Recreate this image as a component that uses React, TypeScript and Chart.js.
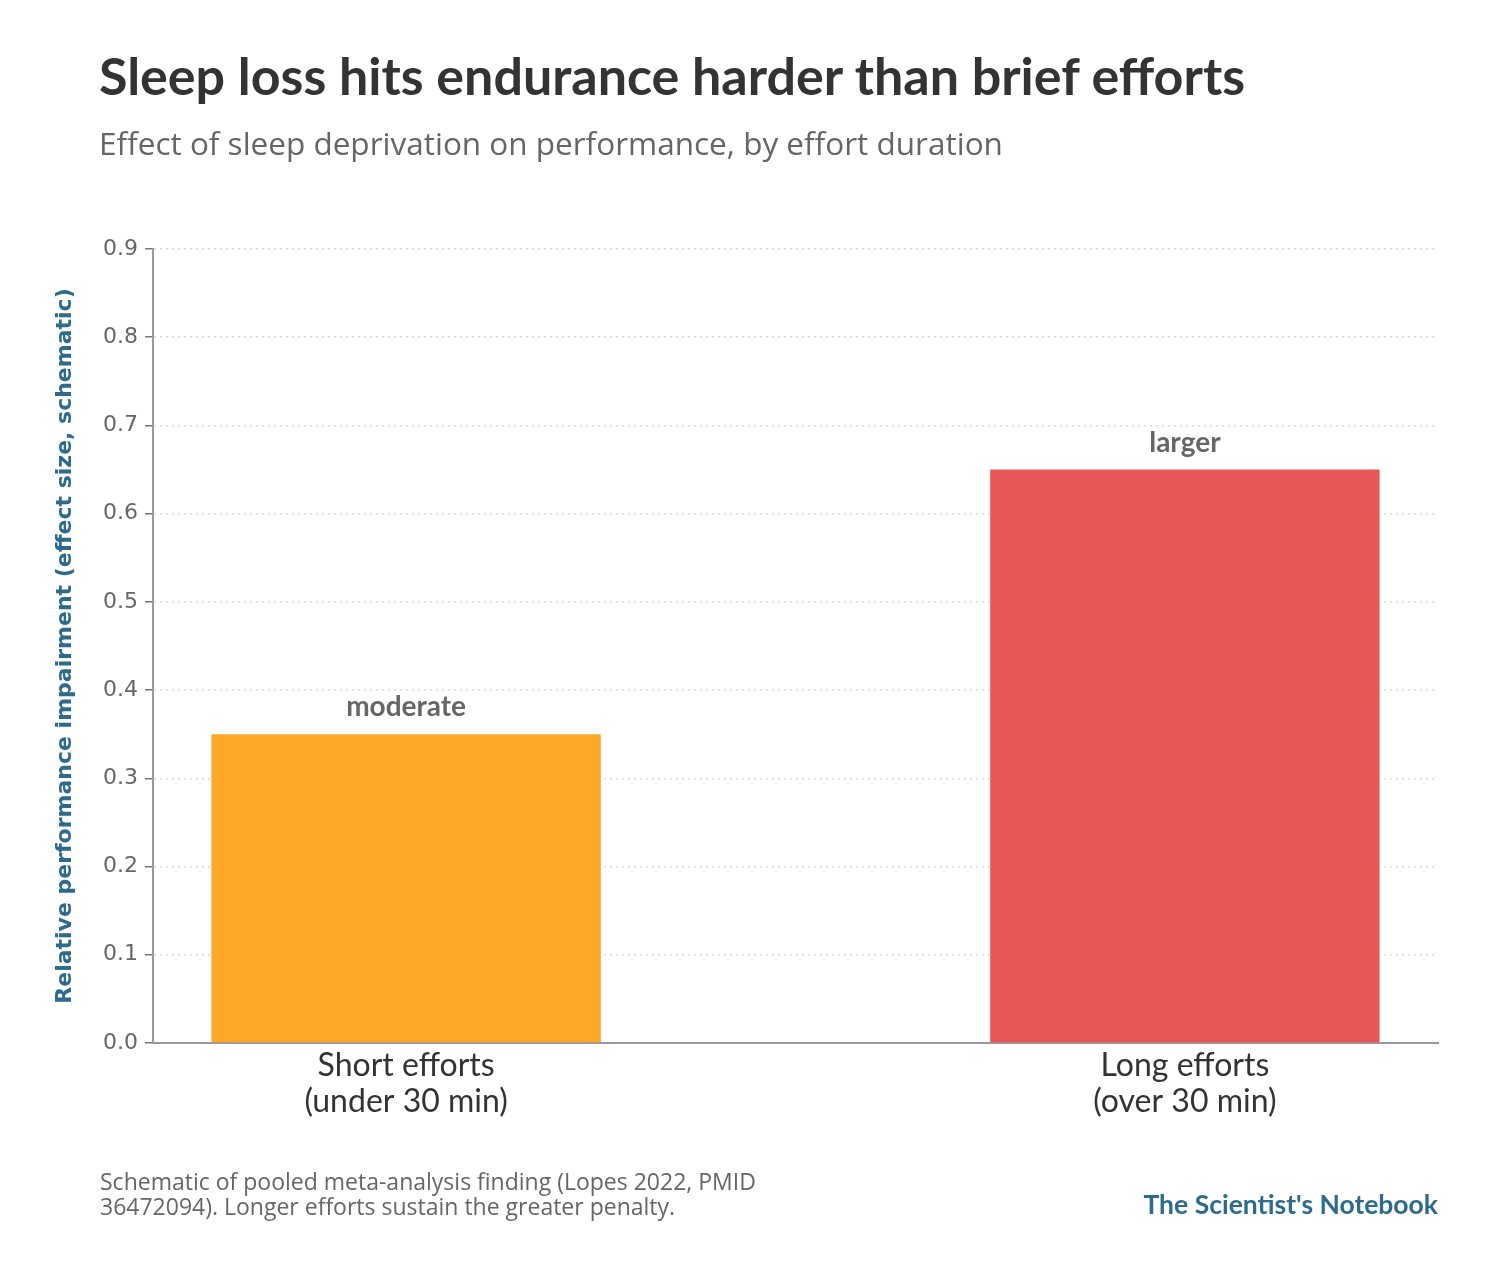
import React, { useEffect, useRef } from "react";
import { Chart, registerables, ChartConfiguration, Plugin } from "chart.js";

Chart.register(...registerables);

// data
const categories = [
  ["Short efforts", "(under 30 min)"],
  ["Long efforts", "(over 30 min)"],
];
const positions = [0, 1];
const impairment = [0.35, 0.65];
const barLabels = ["moderate", "larger"];
const barColors = ["#FFA828", "#E85755"];
const yTicks = [0, 0.1, 0.2, 0.3, 0.4, 0.5, 0.6, 0.7, 0.8, 0.9];

const MAIN_FONT = "Lato, 'Open Sans', sans-serif";
const SANS_FONT = "'Open Sans', sans-serif";
const DEJAVU = "'DejaVu Sans', sans-serif";
const ACCENT = "#2D6B8C";

// draws the small text over each bar
const barLabelPlugin: Plugin<"bar"> = {
  id: "barLabels",
  afterDatasetsDraw(chart) {
    const ctx = chart.ctx;
    const meta = chart.getDatasetMeta(0);
    ctx.save();
    ctx.font = `bold 28px ${MAIN_FONT}`;
    ctx.fillStyle = "#666666";
    ctx.textAlign = "center";
    ctx.textBaseline = "middle";
    meta.data.forEach((bar, i) => {
      ctx.fillText(barLabels[i], bar.x, bar.y - 27);
    });
    ctx.restore();
  },
};

const App: React.FC = () => {
  const canvasRef = useRef<HTMLCanvasElement | null>(null);
  const chartRef = useRef<Chart<"bar"> | null>(null);

  useEffect(() => {
    const canvas = canvasRef.current;
    if (!canvas) return;
    const ctx = canvas.getContext("2d");
    if (!ctx) return;

    const config: ChartConfiguration<"bar"> = {
      type: "bar",
      data: {
        datasets: [
          {
            data: positions.map((p, i) => ({ x: p, y: impairment[i] })) as any,
            backgroundColor: barColors,
            borderWidth: 0,
            barPercentage: 0.5,
            categoryPercentage: 1,
          },
        ],
      },
      options: {
        responsive: false,
        animation: false,
        layout: {
          padding: { left: 52, right: 54, top: 249, bottom: 150 },
        },
        scales: {
          x: {
            type: "linear",
            min: -0.325,
            max: 1.325,
            offset: false,
            afterBuildTicks: (scale) => {
              scale.ticks = positions.map((v) => ({ value: v }));
            },
            afterFit: (scale) => {
              scale.height = 80;
            },
            ticks: {
              autoSkip: false,
              padding: 5,
              color: "#333333",
              font: { family: MAIN_FONT, size: 32, lineHeight: 1.12 },
              callback: (v) => categories[positions.indexOf(Number(v))] ?? "",
            },
            grid: { display: false, drawTicks: false, offset: false },
            border: { display: true, color: "#999999", width: 2 },
          },
          y: {
            type: "linear",
            min: 0,
            max: 0.9,
            afterBuildTicks: (scale) => {
              scale.ticks = yTicks.map((v) => ({ value: v }));
            },
            afterFit: (scale) => {
              scale.width = 101;
            },
            ticks: {
              padding: 7,
              color: "#666666",
              font: { family: DEJAVU, size: 22 },
              callback: (v) => Number(v).toFixed(1),
            },
            grid: {
              color: "#D9D9D9",
              lineWidth: 1.5,
              drawTicks: true,
              tickLength: 8,
              tickColor: "#777777",
              tickWidth: 1.5,
              tickBorderDash: [],
            },
            border: { display: true, color: "#999999", width: 2, dash: [2, 4] },
            title: {
              display: true,
              text: "Relative performance impairment (effect size, schematic)",
              color: ACCENT,
              font: { family: DEJAVU, size: 22, weight: "bold" },
              padding: { top: 0, bottom: 0 },
            },
          },
        },
        plugins: {
          legend: { display: false },
          tooltip: { enabled: false },
        },
      },
      plugins: [barLabelPlugin],
    };

    chartRef.current = new Chart(ctx, config);

    return () => {
      if (chartRef.current) {
        chartRef.current.destroy();
        chartRef.current = null;
      }
    };
  }, []);

  return (
    <div
      style={{
        position: "absolute",
        left: 0,
        top: 0,
        width: 1492,
        height: 1273,
        background: "#ffffff",
        fontFamily: MAIN_FONT,
        overflow: "hidden",
      }}
    >
      <canvas
        ref={canvasRef}
        width={1492}
        height={1273}
        style={{ position: "absolute", left: 0, top: 0 }}
      />
      <div
        style={{
          position: "absolute",
          left: 99,
          top: 44,
          fontSize: 52,
          fontWeight: "bold",
          color: "#333333",
          lineHeight: "62px",
          whiteSpace: "nowrap",
        }}
      >
        Sleep loss hits endurance harder than brief efforts
      </div>
      <div
        style={{
          position: "absolute",
          left: 99,
          top: 121,
          fontSize: 31.5,
          fontFamily: SANS_FONT,
          color: "#666666",
          lineHeight: "44px",
          whiteSpace: "nowrap",
        }}
      >
        Effect of sleep deprivation on performance, by effort duration
      </div>
      <div
        style={{
          position: "absolute",
          left: 100,
          top: 1169,
          fontSize: 23,
          fontFamily: SANS_FONT,
          color: "#666666",
          lineHeight: "25px",
          whiteSpace: "nowrap",
        }}
      >
        Schematic of pooled meta-analysis finding (Lopes 2022, PMID
        <br />
        36472094). Longer efforts sustain the greater penalty.
      </div>
      <div
        style={{
          position: "absolute",
          right: 54,
          top: 1188,
          fontSize: 26.5,
          fontWeight: "bold",
          color: ACCENT,
          lineHeight: "32px",
          whiteSpace: "nowrap",
        }}
      >
        The Scientist's Notebook
      </div>
    </div>
  );
};

export default App;
